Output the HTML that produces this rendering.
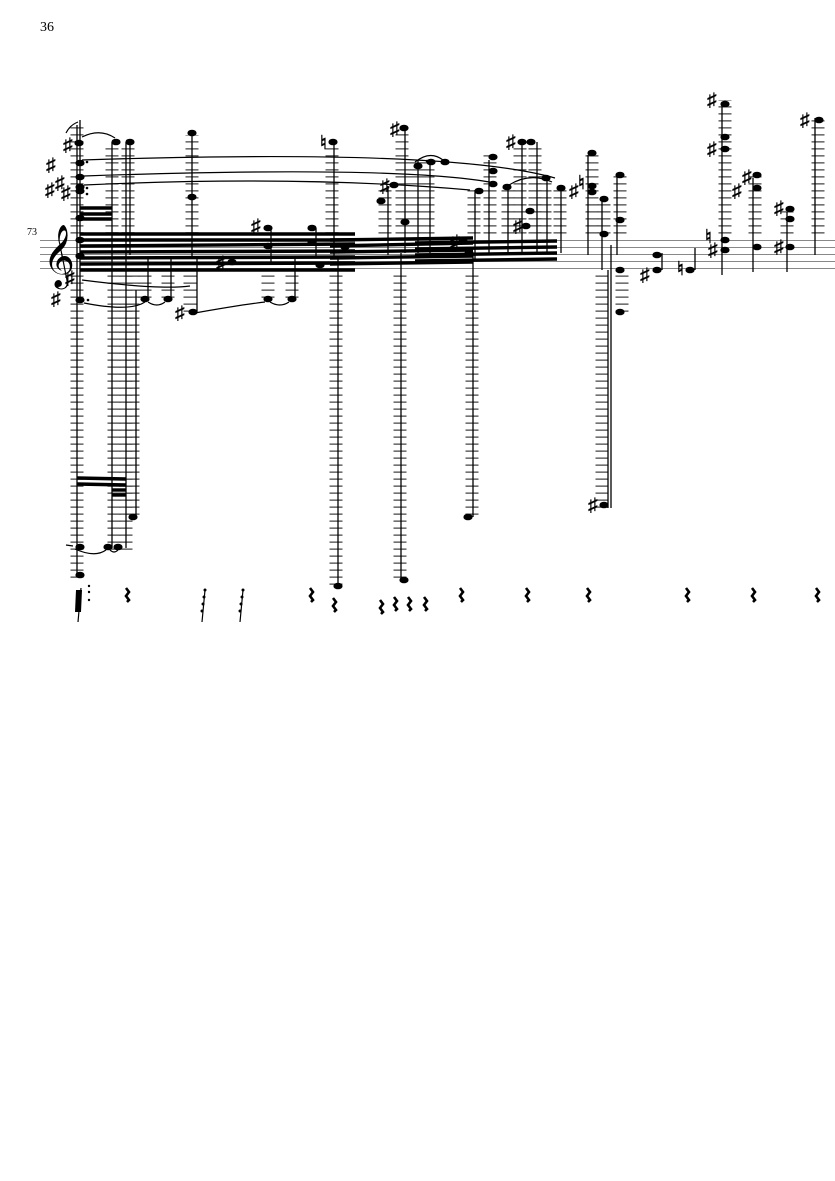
<!DOCTYPE html>
<html><head><meta charset="utf-8"><style>
html,body{margin:0;padding:0;background:#fff;width:835px;height:1181px;overflow:hidden}
svg{display:block}
text{font-family:"Liberation Serif",serif;fill:#000}
</style></head><body>
<svg width="835" height="1181" viewBox="0 0 835 1181" xmlns="http://www.w3.org/2000/svg">
<text x="40" y="31" font-size="14">36</text>
<text x="27" y="235" font-size="10">73</text>
<g stroke="#888" stroke-width="1">
<line x1="40" y1="240.5" x2="835" y2="240.5"/><line x1="40" y1="247.5" x2="835" y2="247.5"/>
<line x1="40" y1="254.5" x2="835" y2="254.5"/><line x1="40" y1="261.5" x2="835" y2="261.5"/>
<line x1="40" y1="268.5" x2="835" y2="268.5"/>
</g>
<text x="43" y="274" font-size="54" font-family="DejaVu Sans, sans-serif">𝄞</text>
<g stroke="#444" stroke-width="13" stroke-dasharray="1.3 5.7">
<line x1="77" y1="233.5" x2="77" y2="125"/><line x1="77" y1="275.5" x2="77" y2="578"/>
<line x1="112" y1="233.5" x2="112" y2="145"/><line x1="114" y1="275.5" x2="114" y2="550"/>
<line x1="128" y1="233.5" x2="128" y2="145"/><line x1="126" y1="275.5" x2="126" y2="550"/>
<line x1="133" y1="275.5" x2="133" y2="518"/>
<line x1="192" y1="233.5" x2="192" y2="135"/>
<line x1="145" y1="275.5" x2="145" y2="300"/><line x1="168" y1="275.5" x2="168" y2="300"/>
<line x1="190" y1="275.5" x2="190" y2="314"/>
<line x1="268" y1="275.5" x2="268" y2="300"/><line x1="292" y1="275.5" x2="292" y2="300"/>
<line x1="332" y1="233.5" x2="332" y2="145"/><line x1="336" y1="275.5" x2="336" y2="588"/>
<line x1="402" y1="233.5" x2="402" y2="130"/><line x1="400" y1="275.5" x2="400" y2="582"/>
<line x1="385" y1="233.5" x2="385" y2="190"/>
<line x1="415" y1="233.5" x2="415" y2="160"/><line x1="428" y1="233.5" x2="428" y2="160"/>
<line x1="474" y1="233.5" x2="474" y2="185"/><line x1="472" y1="275.5" x2="472" y2="520"/>
<line x1="490" y1="233.5" x2="490" y2="155"/><line x1="508" y1="233.5" x2="508" y2="185"/>
<line x1="520" y1="233.5" x2="520" y2="145"/><line x1="535" y1="233.5" x2="535" y2="145"/>
<line x1="545" y1="233.5" x2="545" y2="175"/><line x1="560" y1="233.5" x2="560" y2="185"/>
<line x1="592" y1="233.5" x2="592" y2="150"/><line x1="604" y1="233.5" x2="604" y2="200"/>
<line x1="620" y1="233.5" x2="620" y2="172"/>
<line x1="602" y1="275.5" x2="602" y2="512"/><line x1="622" y1="275.5" x2="622" y2="312"/>
<line x1="725" y1="233.5" x2="725" y2="100"/><line x1="755" y1="233.5" x2="755" y2="172"/>
<line x1="787" y1="233.5" x2="787" y2="208"/><line x1="818" y1="233.5" x2="818" y2="118"/>
</g>
<g stroke="#000" stroke-width="1.3">
<line x1="77" y1="125" x2="77" y2="577"/><line x1="80" y1="120" x2="80" y2="300"/>
<line x1="112" y1="142" x2="112" y2="548"/><line x1="126" y1="142" x2="126" y2="548"/>
<line x1="130" y1="142" x2="130" y2="255"/><line x1="136" y1="290" x2="136" y2="517"/>
<line x1="192" y1="133" x2="192" y2="258"/><line x1="148" y1="258" x2="148" y2="299"/>
<line x1="171" y1="258" x2="171" y2="299"/><line x1="197" y1="258" x2="197" y2="312"/>
<line x1="271" y1="228" x2="271" y2="265"/><line x1="295" y1="258" x2="295" y2="299"/>
<line x1="316" y1="228" x2="316" y2="258"/>
<line x1="334" y1="142" x2="334" y2="258"/><line x1="338" y1="258" x2="338" y2="585"/>
<line x1="405" y1="128" x2="405" y2="253"/><line x1="401" y1="253" x2="401" y2="580"/>
<line x1="388" y1="186" x2="388" y2="255"/><line x1="418" y1="160" x2="418" y2="253"/>
<line x1="430" y1="160" x2="430" y2="253"/>
<line x1="475" y1="190" x2="475" y2="260"/><line x1="473" y1="255" x2="473" y2="517"/>
<line x1="489" y1="160" x2="489" y2="255"/><line x1="508" y1="185" x2="508" y2="255"/>
<line x1="522" y1="142" x2="522" y2="253"/><line x1="537" y1="142" x2="537" y2="253"/>
<line x1="547" y1="178" x2="547" y2="253"/><line x1="561" y1="188" x2="561" y2="253"/>
<line x1="588" y1="155" x2="588" y2="255"/><line x1="602" y1="200" x2="602" y2="270"/>
<line x1="617" y1="175" x2="617" y2="255"/><line x1="611" y1="245" x2="611" y2="508"/>
<line x1="608" y1="270" x2="608" y2="508"/>
<line x1="662" y1="253" x2="662" y2="270"/><line x1="695" y1="248" x2="695" y2="270"/>
<line x1="722" y1="103" x2="722" y2="275"/><line x1="753" y1="178" x2="753" y2="272"/>
<line x1="787" y1="212" x2="787" y2="272"/><line x1="815" y1="118" x2="815" y2="255"/>
</g>
<g stroke="#000" stroke-width="3.4">
<line x1="80" y1="234" x2="355" y2="234"/><line x1="80" y1="240" x2="355" y2="240"/>
<line x1="80" y1="246" x2="355" y2="244"/><line x1="80" y1="252" x2="355" y2="251"/>
<line x1="80" y1="258" x2="355" y2="257"/><line x1="80" y1="264" x2="355" y2="263"/>
<line x1="80" y1="270" x2="355" y2="270"/>
<line x1="330" y1="240" x2="473" y2="238"/><line x1="330" y1="246" x2="473" y2="243"/>
<line x1="330" y1="252" x2="473" y2="250"/><line x1="330" y1="258" x2="473" y2="256"/>
<line x1="330" y1="264" x2="473" y2="262"/>
<line x1="415" y1="243" x2="557" y2="241"/><line x1="415" y1="249" x2="557" y2="247"/>
<line x1="415" y1="255" x2="557" y2="253"/><line x1="415" y1="261" x2="557" y2="259"/>
<line x1="80" y1="208" x2="112" y2="208"/><line x1="80" y1="214" x2="112" y2="214"/><line x1="80" y1="219" x2="112" y2="219"/>
<line x1="77" y1="478" x2="126" y2="479"/><line x1="77" y1="484" x2="126" y2="485"/>
<line x1="112" y1="490" x2="126" y2="490"/><line x1="112" y1="495" x2="126" y2="495"/>
</g>
<g fill="#000">
<ellipse cx="79" cy="143" rx="4.6" ry="3.3"/><ellipse cx="80" cy="163" rx="4.6" ry="3.3"/>
<ellipse cx="80" cy="177" rx="4.6" ry="3.3"/><ellipse cx="80" cy="187" rx="4.6" ry="3.3"/>
<ellipse cx="80" cy="191" rx="4.6" ry="3.3"/><ellipse cx="80" cy="218" rx="4.6" ry="3.3"/>
<ellipse cx="80" cy="240" rx="4.6" ry="3.3"/><ellipse cx="80" cy="256" rx="4.6" ry="3.3"/>
<ellipse cx="80" cy="300" rx="4.6" ry="3.3"/>
<ellipse cx="116" cy="142" rx="4.6" ry="3.3"/><ellipse cx="130" cy="142" rx="4.6" ry="3.3"/>
<ellipse cx="192" cy="133" rx="4.6" ry="3.3"/><ellipse cx="192" cy="197" rx="4.6" ry="3.3"/>
<ellipse cx="145" cy="299" rx="4.6" ry="3.3"/><ellipse cx="168" cy="299" rx="4.6" ry="3.3"/>
<ellipse cx="193" cy="312" rx="4.6" ry="3.3"/>
<ellipse cx="232" cy="262" rx="4.6" ry="3.3"/><ellipse cx="268" cy="228" rx="4.6" ry="3.3"/>
<ellipse cx="268" cy="246" rx="4.6" ry="3.3"/><ellipse cx="312" cy="228" rx="4.6" ry="3.3"/>
<ellipse cx="312" cy="242" rx="4.6" ry="3.3"/><ellipse cx="320" cy="265" rx="4.6" ry="3.3"/>
<ellipse cx="268" cy="299" rx="4.6" ry="3.3"/><ellipse cx="292" cy="299" rx="4.6" ry="3.3"/>
<ellipse cx="333" cy="142" rx="4.6" ry="3.3"/><ellipse cx="345" cy="247" rx="4.6" ry="3.3"/>
<ellipse cx="338" cy="586" rx="4.6" ry="3.3"/>
<ellipse cx="404" cy="128" rx="4.6" ry="3.3"/><ellipse cx="405" cy="222" rx="4.6" ry="3.3"/>
<ellipse cx="381" cy="201" rx="4.6" ry="3.3"/><ellipse cx="394" cy="185" rx="4.6" ry="3.3"/>
<ellipse cx="404" cy="580" rx="4.6" ry="3.3"/>
<ellipse cx="418" cy="166" rx="4.6" ry="3.3"/><ellipse cx="431" cy="162" rx="4.6" ry="3.3"/>
<ellipse cx="445" cy="162" rx="4.6" ry="3.3"/>
<ellipse cx="463" cy="241" rx="4.6" ry="3.3"/><ellipse cx="469" cy="253" rx="4.6" ry="3.3"/>
<ellipse cx="468" cy="517" rx="4.6" ry="3.3"/>
<ellipse cx="479" cy="191" rx="4.6" ry="3.3"/><ellipse cx="493" cy="157" rx="4.6" ry="3.3"/>
<ellipse cx="493" cy="171" rx="4.6" ry="3.3"/><ellipse cx="493" cy="184" rx="4.6" ry="3.3"/>
<ellipse cx="507" cy="187" rx="4.6" ry="3.3"/>
<ellipse cx="522" cy="142" rx="4.6" ry="3.3"/><ellipse cx="531" cy="142" rx="4.6" ry="3.3"/>
<ellipse cx="530" cy="211" rx="4.6" ry="3.3"/><ellipse cx="526" cy="226" rx="4.6" ry="3.3"/>
<ellipse cx="546" cy="178" rx="4.6" ry="3.3"/><ellipse cx="561" cy="188" rx="4.6" ry="3.3"/>
<ellipse cx="592" cy="153" rx="4.6" ry="3.3"/><ellipse cx="592" cy="186" rx="4.6" ry="3.3"/>
<ellipse cx="592" cy="192" rx="4.6" ry="3.3"/><ellipse cx="604" cy="199" rx="4.6" ry="3.3"/>
<ellipse cx="604" cy="234" rx="4.6" ry="3.3"/><ellipse cx="620" cy="175" rx="4.6" ry="3.3"/>
<ellipse cx="620" cy="220" rx="4.6" ry="3.3"/><ellipse cx="620" cy="270" rx="4.6" ry="3.3"/>
<ellipse cx="620" cy="312" rx="4.6" ry="3.3"/><ellipse cx="604" cy="505" rx="4.6" ry="3.3"/>
<ellipse cx="657" cy="270" rx="4.6" ry="3.3"/><ellipse cx="657" cy="255" rx="4.6" ry="3.3"/>
<ellipse cx="690" cy="270" rx="4.6" ry="3.3"/>
<ellipse cx="725" cy="104" rx="4.6" ry="3.3"/><ellipse cx="725" cy="137" rx="4.6" ry="3.3"/>
<ellipse cx="725" cy="149" rx="4.6" ry="3.3"/><ellipse cx="725" cy="240" rx="4.6" ry="3.3"/>
<ellipse cx="725" cy="250" rx="4.6" ry="3.3"/>
<ellipse cx="757" cy="175" rx="4.6" ry="3.3"/><ellipse cx="757" cy="188" rx="4.6" ry="3.3"/>
<ellipse cx="757" cy="247" rx="4.6" ry="3.3"/>
<ellipse cx="790" cy="209" rx="4.6" ry="3.3"/><ellipse cx="790" cy="219" rx="4.6" ry="3.3"/>
<ellipse cx="790" cy="247" rx="4.6" ry="3.3"/>
<ellipse cx="819" cy="120" rx="4.6" ry="3.3"/>
<ellipse cx="80" cy="547" rx="4.6" ry="3.3"/><ellipse cx="80" cy="575" rx="4.6" ry="3.3"/>
<ellipse cx="108" cy="547" rx="4.6" ry="3.3"/><ellipse cx="118" cy="547" rx="4.6" ry="3.3"/>
<ellipse cx="133" cy="517" rx="4.6" ry="3.3"/>
</g>
<g font-size="19" font-weight="bold" font-family="DejaVu Sans, sans-serif">
<text x="63" y="151">♯</text><text x="46" y="171">♯</text><text x="55" y="189">♯</text>
<text x="45" y="196">♯</text><text x="61" y="199">♯</text><text x="51" y="305">♯</text>
<text x="65" y="284">♯</text><text x="175" y="319">♯</text><text x="216" y="269">♯</text>
<text x="251" y="232">♯</text><text x="320" y="149">♮</text><text x="390" y="135">♯</text>
<text x="380" y="192">♯</text><text x="450" y="248">♯</text><text x="513" y="232">♯</text>
<text x="506" y="148">♯</text><text x="569" y="197">♯</text><text x="578" y="189">♮</text>
<text x="588" y="511">♯</text><text x="640" y="281">♯</text><text x="677" y="275">♮</text>
<text x="707" y="106">♯</text><text x="707" y="155">♯</text><text x="705" y="243">♮</text>
<text x="708" y="256">♯</text><text x="732" y="197">♯</text><text x="742" y="183">♯</text>
<text x="774" y="214">♯</text><text x="774" y="253">♯</text><text x="800" y="126">♯</text>
</g>
<g fill="none" stroke="#000" stroke-width="1.2">
<path d="M82 137 Q100 128 115 138"/>
<path d="M82 160 Q450 148 555 178"/>
<path d="M84 176 Q400 165 495 183"/>
<path d="M84 185 Q300 175 470 190"/>
<path d="M82 280 Q160 290 190 286"/>
<path d="M84 303 Q130 312 145 302"/><path d="M148 302 Q157 308 165 302"/>
<path d="M195 313 Q240 305 265 302"/><path d="M270 302 Q280 308 289 302"/>
<path d="M75 549 Q95 558 106 550"/><path d="M110 550 Q114 554 118 550"/>
<path d="M66 545 L73 546"/>
<path d="M415 162 Q430 150 443 160"/><path d="M509 185 Q530 172 552 182"/>
<path d="M66 133 Q70 125 78 122"/>
</g>
<g fill="#000"><circle cx="87" cy="162" r="1.3"/><circle cx="87" cy="188" r="1.3"/><circle cx="87" cy="194" r="1.3"/>
<circle cx="88" cy="300" r="1.3"/><circle cx="427" cy="161" r="1.3"/>
<circle cx="89" cy="586" r="1.2"/><circle cx="89" cy="592" r="1.2"/><circle cx="89" cy="600" r="1.2"/></g>
<g fill="none" stroke="#000" stroke-width="2.6">
<path d="M126 588 l3 4 l-3 4 l3 4 l-2 2"/>
<path d="M310 588 l3 4 l-3 4 l3 4 l-2 2"/><path d="M333 598 l3 4 l-3 4 l3 4 l-2 2"/>
<path d="M380 600 l3 4 l-3 4 l3 4 l-2 2"/><path d="M394 597 l3 4 l-3 4 l3 4 l-2 2"/>
<path d="M408 597 l3 4 l-3 4 l3 4 l-2 2"/><path d="M424 597 l3 4 l-3 4 l3 4 l-2 2"/>
<path d="M460 588 l3 4 l-3 4 l3 4 l-2 2"/><path d="M526 588 l3 4 l-3 4 l3 4 l-2 2"/>
<path d="M587 588 l3 4 l-3 4 l3 4 l-2 2"/><path d="M686 588 l3 4 l-3 4 l3 4 l-2 2"/>
<path d="M752 588 l3 4 l-3 4 l3 4 l-2 2"/><path d="M816 588 l3 4 l-3 4 l3 4 l-2 2"/>
</g>
<g stroke="#000" stroke-width="1.2">
<line x1="81" y1="588" x2="78" y2="622"/><line x1="205" y1="590" x2="202" y2="622"/>
<line x1="243" y1="590" x2="240" y2="622"/>
</g>
<g fill="#000"><path d="M76 590 l6 0 l-1 22 l-6 0z"/>
<circle cx="205" cy="590" r="1.5"/><circle cx="204" cy="597" r="1.5"/><circle cx="203" cy="604" r="1.5"/><circle cx="202" cy="611" r="1.5"/>
<circle cx="243" cy="590" r="1.5"/><circle cx="242" cy="597" r="1.5"/><circle cx="241" cy="604" r="1.5"/><circle cx="240" cy="611" r="1.5"/></g>
</svg>
</body></html>
